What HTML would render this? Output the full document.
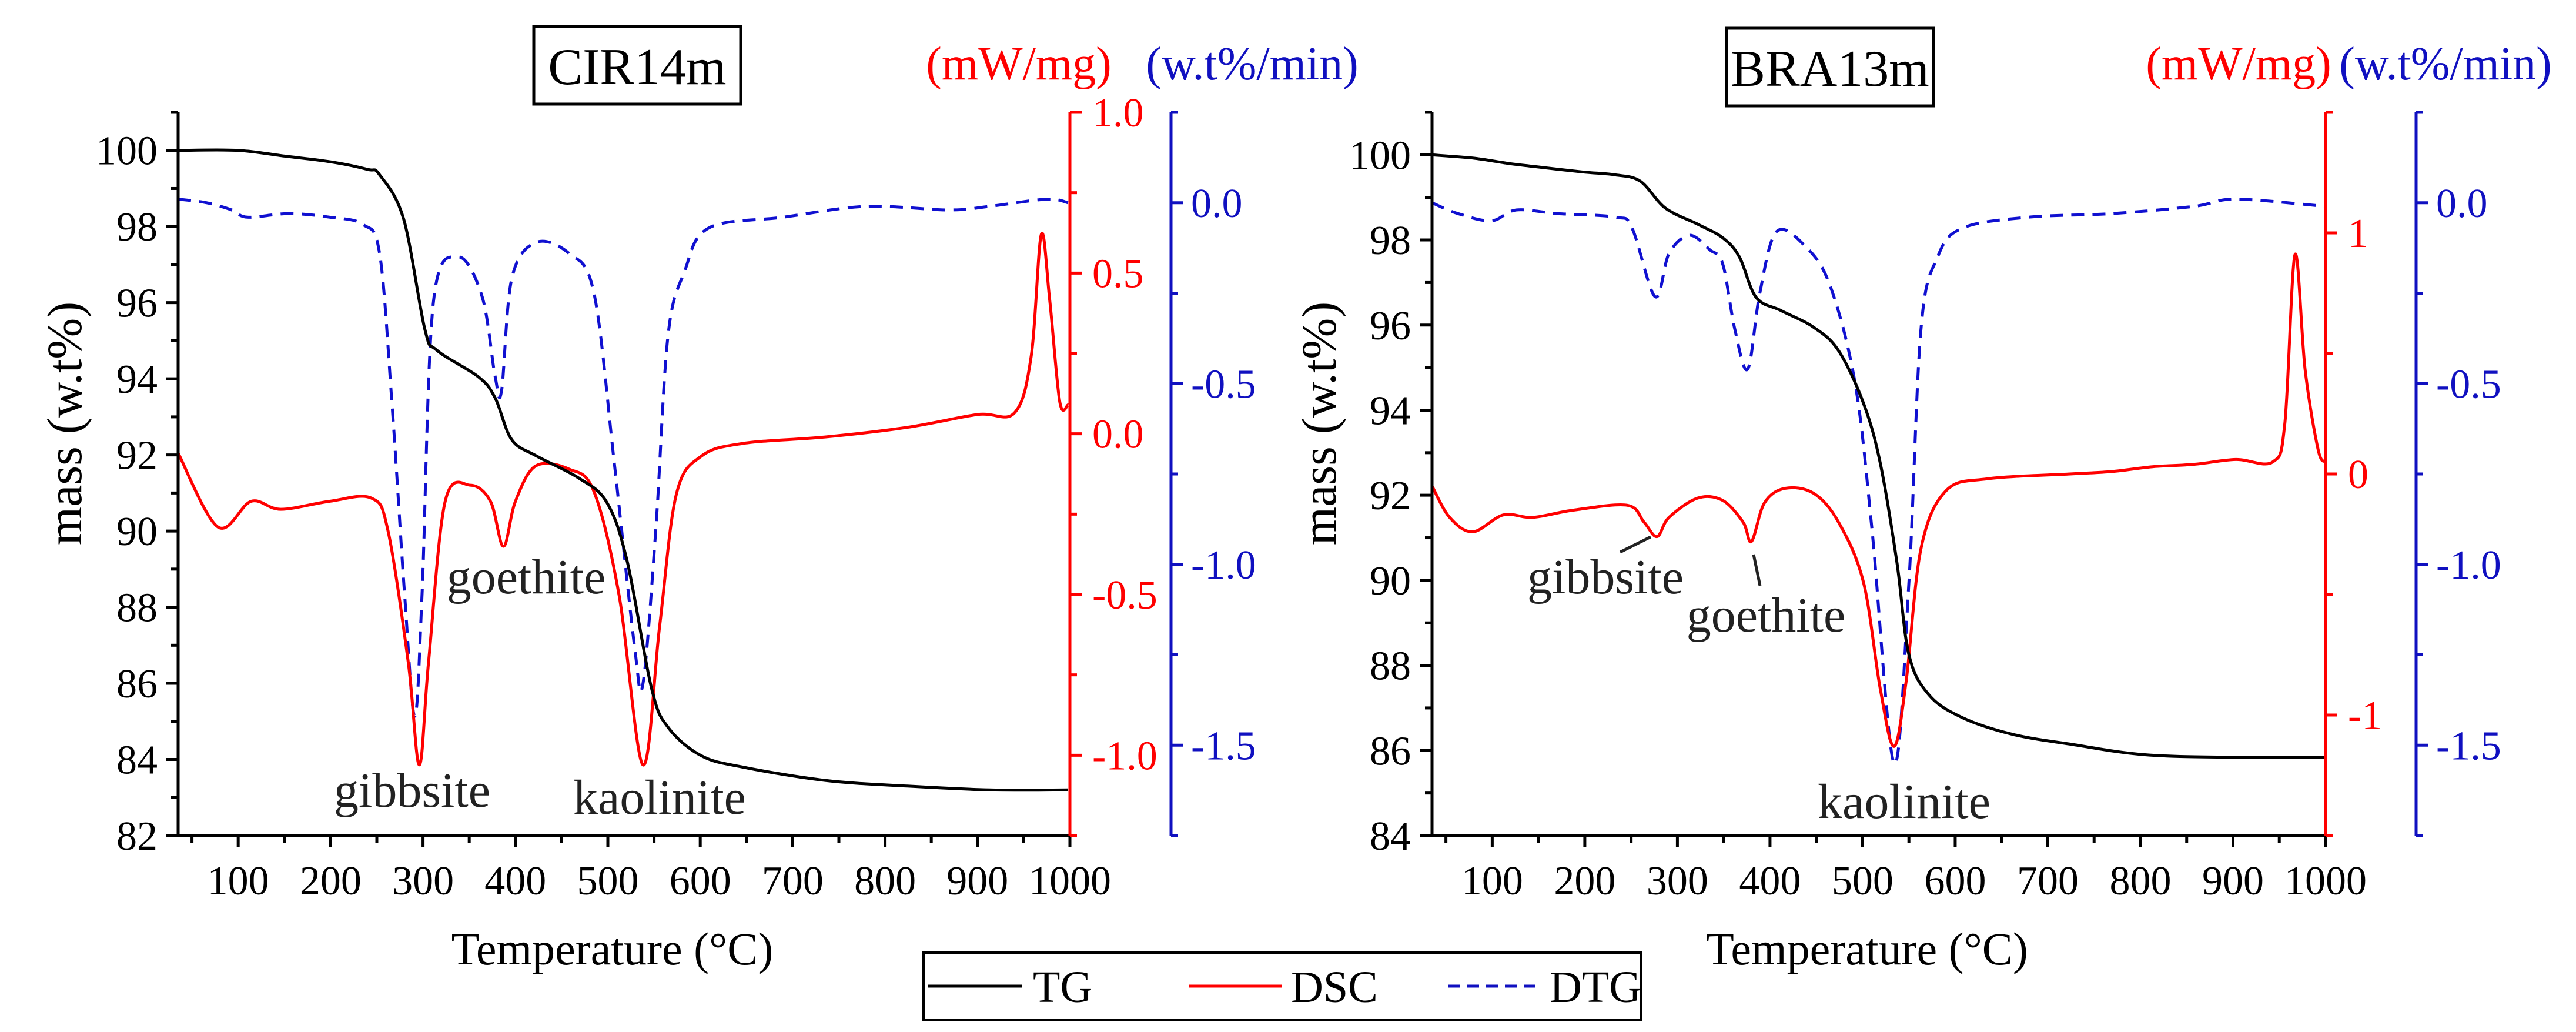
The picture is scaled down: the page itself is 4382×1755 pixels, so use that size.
<!DOCTYPE html>
<html><head><meta charset="utf-8"><style>
html,body{margin:0;padding:0;background:#fff}
svg{display:block;font-family:"Liberation Serif",serif}
</style></head><body>
<svg id="fig" width="4382" height="1755" viewBox="0 0 4382 1755" xmlns="http://www.w3.org/2000/svg"></svg>
<script>
// ---- CIR14m data ----
const cirTgT = [35,100,150,200,240,253,279,302,315,360,378,396,423,468,499,521,547,565,601,646,735,824,913,998];
const cirTgV = [100,100,99.85,99.7,99.5,99.36,98.2,95.3,94.75,94.05,93.5,92.4,91.97,91.4,90.75,89.2,85.9,84.85,84.1,83.8,83.45,83.3,83.2,83.2];
const cirDscT = [35,78,114,146,199,244,262,284,296,306,324,351,373,387,400,422,458,485,512,538,556,574,601,646,735,824,900,940,958,969,978,989,998];
const cirDscV = [-0.06,-0.29,-0.21,-0.235,-0.21,-0.2,-0.3,-0.71,-1.03,-0.71,-0.21,-0.16,-0.21,-0.35,-0.21,-0.1,-0.11,-0.18,-0.5,-1.03,-0.6,-0.19,-0.07,-0.03,-0.01,0.02,0.06,0.065,0.24,0.62,0.42,0.1,0.09];
const cirDtgT = [35,66,93,110,155,199,235,253,266,280,291,299,311,338,364,378,385,396,422,458,485,507,529,538,552,565,583,609,690,779,868,913,975,998];
const cirDtgV = [0.01,0,-0.02,-0.04,-0.03,-0.04,-0.06,-0.14,-0.54,-1.08,-1.42,-1.08,-0.28,-0.15,-0.26,-0.48,-0.52,-0.21,-0.11,-0.14,-0.25,-0.72,-1.23,-1.33,-0.9,-0.37,-0.19,-0.07,-0.04,-0.01,-0.02,-0.01,0.01,0];
// ---- BRA13m data ----
const braTgT = [35,81,117,144,197,233,260,287,322,349,367,385,412,447,474,501,519,537,550,572,608,662,724,805,903,1000];
const braTgV = [100,99.92,99.8,99.73,99.6,99.53,99.38,98.75,98.37,98.05,97.6,96.65,96.34,95.95,95.4,94.16,92.76,90.43,88.25,87.3,86.77,86.38,86.15,85.9,85.84,85.84];
const braDscT = [35,54,79,112,144,188,246,264,278,291,322,349,371,380,394,416,447,474,501,519,534,547,563,590,635,724,769,813,858,903,943,956,967,978,992,1000];
const braDscV = [-0.05,-0.18,-0.24,-0.17,-0.18,-0.15,-0.13,-0.2,-0.26,-0.18,-0.1,-0.11,-0.2,-0.28,-0.12,-0.06,-0.08,-0.2,-0.45,-0.89,-1.13,-0.86,-0.31,-0.07,-0.02,0,0.01,0.03,0.04,0.06,0.05,0.21,0.91,0.43,0.1,0.05];
const braDtgT = [35,63,99,126,171,233,251,276,291,313,335,349,362,376,389,407,438,465,492,510,534,550,563,581,608,679,769,858,903,1000];
const braDtgV = [0,-0.03,-0.05,-0.02,-0.03,-0.04,-0.07,-0.26,-0.14,-0.09,-0.13,-0.17,-0.35,-0.46,-0.25,-0.08,-0.12,-0.23,-0.5,-0.9,-1.55,-1.05,-0.35,-0.15,-0.07,-0.04,-0.03,-0.01,0.01,-0.01];
// ---- tick labels ----
const xTicks = [100,200,300,400,500,600,700,800,900,1000];
const cirMassTicks = [82,84,86,88,90,92,94,96,98,100];
const braMassTicks = [84,86,88,90,92,94,96,98,100];
const cirDscTicks = ["1.0","0.5","0.0","-0.5","-1.0"];
const braDscTicks = ["1","0","-1"];
const dtgTicks = ["0.0","-0.5","-1.0","-1.5"];

const NS="http://www.w3.org/2000/svg";
const svg=document.getElementById('fig');
function mk(tag,attrs,parent){const e=document.createElementNS(NS,tag);for(const k in attrs)e.setAttribute(k,attrs[k]);(parent||svg).appendChild(e);return e;}
function txt(s,attrs,parent){const e=mk('text',attrs,parent);e.textContent=s;return e;}
function smoothPath(P){
  let d='M'+P[0][0].toFixed(1)+','+P[0][1].toFixed(1);
  for(let i=0;i<P.length-1;i++){
    const p0=P[Math.max(0,i-1)],p1=P[i],p2=P[i+1],p3=P[Math.min(P.length-1,i+2)];
    const c1x=p1[0]+(p2[0]-p0[0])/6,c1y=p1[1]+(p2[1]-p0[1])/6;
    const c2x=p2[0]-(p3[0]-p1[0])/6,c2y=p2[1]-(p3[1]-p1[1])/6;
    d+='C'+c1x.toFixed(1)+','+c1y.toFixed(1)+' '+c2x.toFixed(1)+','+c2y.toFixed(1)+' '+p2[0].toFixed(1)+','+p2[1].toFixed(1);
  }
  return d;
}

function drawChart(c){
  const g=mk('g',{});
  
  
  const xs=t=>c.x0+(t-35)/(1000-35)*(c.x1-c.x0);
  const ym=v=>c.y1-(v-c.mMin)/(c.mMax-c.mMin)*(c.y1-c.y0);
  const yd=v=>c.y1-(v-c.dMin)/(c.dMax-c.dMin)*(c.y1-c.y0);
  const yb=v=>c.y1-(v+1.75)/2.0*(c.y1-c.y0);
  const clipId='clip-'+c.id;
  const cp=mk('clipPath',{id:clipId},g);mk('rect',{x:c.x0,y:c.y0-20,width:c.x1-c.x0,height:c.y1-c.y0+40},cp);
  function line(T,V,f,color,name,dash){
    const d=smoothPath(T.map((t,i)=>[xs(t),f(V[i])]));
    const p=mk('path',{d:d,fill:'none',stroke:color,'stroke-width':5,'stroke-linejoin':'round','clip-path':'url(#'+clipId+')'},g);
    if(dash)p.setAttribute('stroke-dasharray',dash);
    
    
  }
  line(c.dtgT,c.dtgV,yb,'#1010d0',c.id+'-dtg-line','22 14');
  line(c.dscT,c.dscV,yd,'#ff0000',c.id+'-dsc-line');
  line(c.tgT,c.tgV,ym,'#000',c.id+'-tg-line');
  const ax=mk('g',{stroke:'#000','stroke-width':5},g);
  
  
  mk('line',{x1:c.x0,y1:c.y0,x2:c.x0,y2:c.y1+3},ax);
  mk('line',{x1:c.x0-2,y1:c.y1,x2:c.x1,y2:c.y1},ax);
  xTicks.forEach(t=>{mk('line',{x1:xs(t),y1:c.y1,x2:xs(t),y2:c.y1+20},ax);});
  for(let t=50;t<1000;t+=100)mk('line',{x1:xs(t),y1:c.y1,x2:xs(t),y2:c.y1+12},ax);
  xTicks.forEach(t=>{const e=txt(String(t),{x:xs(t),y:c.y1+100,'font-size':70,'text-anchor':'middle',fill:'#000'},g);
    });
  for(let v=c.mMin;v<=c.mMax;v+=1){const maj=c.mTicks.includes(v);mk('line',{x1:c.x0,y1:ym(v),x2:c.x0-(maj?20:12),y2:ym(v)},ax);}
  c.mTicks.forEach(v=>{const e=txt(String(v),{x:c.mLabX,y:ym(v)+24,'font-size':70,'text-anchor':'end',fill:'#000'},g);
    });
  const ra=mk('g',{stroke:'#ff0000','stroke-width':5},g);
  
  mk('line',{x1:c.x1,y1:c.y0,x2:c.x1,y2:c.y1},ra);
  for(let v=c.dMin;v<=c.dMax+1e-6;v+=c.dMinor){const maj=c.dTicks.some(s=>Math.abs(parseFloat(s)-v)<1e-6);mk('line',{x1:c.x1,y1:yd(v),x2:c.x1+(maj?20:12),y2:yd(v)},ra);}
  c.dTicks.forEach(s=>{const e=txt(s,{x:c.x1+38,y:yd(parseFloat(s))+24,'font-size':70,fill:'#ff0000'},g);
    });
  const ba=mk('g',{stroke:'#1010c0','stroke-width':5},g);
  
  mk('line',{x1:c.xb,y1:c.y0,x2:c.xb,y2:c.y1},ba);
  for(let v=0.25;v>=-1.75-1e-6;v-=0.25){const maj=dtgTicks.some(s=>Math.abs(parseFloat(s)-v)<1e-6);mk('line',{x1:c.xb,y1:yb(v),x2:c.xb+(maj?20:12),y2:yb(v)},ba);}
  dtgTicks.forEach(s=>{const e=txt(s,{x:c.xb+34,y:yb(parseFloat(s))+24,'font-size':70,fill:'#1010c0'},g);
    });
  let e=txt('Temperature (°C)',{x:(c.x0+c.x1)/2-20,y:1640,'font-size':78,'text-anchor':'middle',fill:'#000'},g);
  
  e=txt('mass (w.t%)',{x:0,y:0,'font-size':84,'text-anchor':'middle',fill:'#000',transform:'translate('+c.yTitleX+',720) rotate(-90)'},g);
  
  const bx=mk('rect',{x:c.bx,y:c.by,width:c.bw,height:132,fill:'none',stroke:'#000','stroke-width':5},g);
  
  e=txt(c.id,{x:c.bx+c.bw/2,y:c.by+98,'font-size':88,'text-anchor':'middle',fill:'#000'},g);
  
  e=txt('(mW/mg)',{x:c.redUnitX,y:135,'font-size':80,'text-anchor':'middle',fill:'#ff0000'},g);
  
  e=txt('(w.t%/min)',{x:c.blueUnitX,y:135,'font-size':80,'text-anchor':'middle',fill:'#1010c0'},g);
  
  c.ann.forEach(a=>{const t=txt(a[0],{x:a[1],y:a[2]+28,'font-size':84,'text-anchor':'middle',fill:'#222'},g);
    });
  (c.leaders||[]).forEach(l=>{const ln=mk('line',{x1:l[0],y1:l[1],x2:l[2],y2:l[3],stroke:'#222','stroke-width':5},g);
    });
}

drawChart({id:'CIR14m',x0:303,x1:1820,xb:1992,y0:191,y1:1421,mMin:82,mMax:101,mTicks:cirMassTicks,mLabX:268,
  dMin:-1.25,dMax:1.0,dMinor:0.25,dTicks:cirDscTicks,
  tgT:cirTgT,tgV:cirTgV,dscT:cirDscT,dscV:cirDscV,dtgT:cirDtgT,dtgV:cirDtgV,
  yTitleX:138,bx:908,by:45,bw:352,redUnitX:1733,blueUnitX:2130,
  ann:[['goethite',895,981],['gibbsite',701,1344],['kaolinite',1122,1356]]});
drawChart({id:'BRA13m',x0:2436,x1:3956,xb:4110,y0:191,y1:1421,mMin:84,mMax:101,mTicks:braMassTicks,mLabX:2400,
  dMin:-1.5,dMax:1.5,dMinor:0.5,dTicks:braDscTicks,
  tgT:braTgT,tgV:braTgV,dscT:braDscT,dscV:braDscV,dtgT:braDtgT,dtgV:braDtgV,
  yTitleX:2272,bx:2937,by:48,bw:352,redUnitX:3808,blueUnitX:4160,
  ann:[['gibbsite',2731,981],['goethite',3004,1046],['kaolinite',3239,1363]],
  leaders:[[2756,939,2808,913],[2983,943,2994,996]]});

const lg=mk('g',{});


mk('rect',{x:1571,y:1620,width:1221,height:115,fill:'#fff',stroke:'#000','stroke-width':4},lg);
const legItems=[['TG','#000',null,1579,1739,1757],['DSC','#ff0000',null,2022,2181,2196],['DTG','#1010c0','20 12',2464,2620,2636]];
legItems.forEach(it=>{
  const eg=mk('g',{},lg);
  
  
  const l=mk('line',{x1:it[3],y1:1677,x2:it[4],y2:1677,stroke:it[1],'stroke-width':5},eg);
  if(it[2])l.setAttribute('stroke-dasharray',it[2]);
  txt(it[0],{x:it[5],y:1704,'font-size':76,fill:'#000'},eg);
});
</script>
</body></html>
